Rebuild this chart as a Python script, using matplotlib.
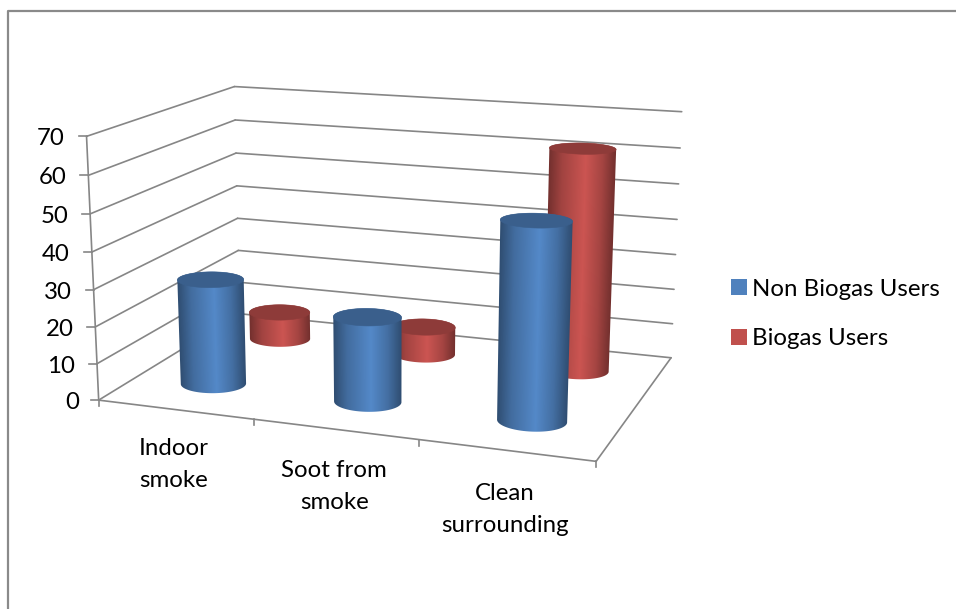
import numpy as np
import matplotlib
matplotlib.use("Agg")
import matplotlib.pyplot as plt
from matplotlib.colors import to_rgb, LinearSegmentedColormap
from matplotlib.patches import Patch, Polygon

categories = ["Indoor\nsmoke", "Soot from\nsmoke", "Clean\nsurrounding"]
series_names = ["Non Biogas Users", "Biogas Users"]
non_biogas = [29, 23, 52]
biogas = [8, 8, 62]
value_ticks = [0, 10, 20, 30, 40, 50, 60, 70]

W, H = 956, 609
GRID = "#868686"
plt.rcParams["font.family"] = ["Lato", "DejaVu Sans"]

# Camera for the 3D box: (category, depth, value) -> canvas position,
# solved from where the box corners land on the canvas.
anchors = [
    ((0, 0, 0), (99, 399.3)), ((1, 0, 0), (253, 419)), ((2, 0, 0), (419, 440)),
    ((3, 0, 0), (596.7, 461.7)), ((0, 1, 0), (240, 315)), ((3, 1, 0), (671, 356.7)),
    ((0, 0, 70), (86.7, 136.7)), ((0, 1, 70), (234.3, 85.7)), ((3, 1, 70), (681.7, 112.3)),
]
rows = []
for (a, b, c), (x, y) in anchors:
    rows.append([a, b, c, 1, 0, 0, 0, 0, -x * a, -x * b, -x * c, -x])
    rows.append([0, 0, 0, 0, a, b, c, 1, -y * a, -y * b, -y * c, -y])
rows = np.array(rows, float)
scale = np.array([1, 1, 1 / 70, 1] * 2 + [1 / 600, 1 / 600, 1 / 42000, 1 / 600])
_, _, vt = np.linalg.svd(rows * scale)
CAM = (vt[-1] * scale).reshape(3, 4)


def project(u, v, w):
    u, v, w = np.broadcast_arrays(u, v, w)
    p = CAM @ np.vstack([u.ravel(), v.ravel(), w.ravel(), np.ones(u.size)])
    return p[0] / p[2], p[1] / p[2]


def convex_hull(points):
    pts = sorted(map(tuple, points))

    def half(seq):
        out = []
        for p in seq:
            while len(out) > 1 and ((out[-1][0] - out[-2][0]) * (p[1] - out[-2][1])
                                    - (out[-1][1] - out[-2][1]) * (p[0] - out[-2][0])) <= 0:
                out.pop()
            out.append(p)
        return out[:-1]

    return np.array(half(pts) + half(pts[::-1]))


fig = plt.figure(figsize=(W / 100, H / 100), dpi=100, facecolor="white")
ax = fig.add_axes([0, 0, 1, 1])
ax.axis("off")


def line3d(a, b):
    x, y = project(*np.array([a, b], float).T)
    ax.plot(x, y, color=GRID, lw=1.2, solid_capstyle="round", zorder=1)


# Outer chart border
ax.plot([W, 8.5, 8.5], [10.5, 10.5, H], color="#8a8a8a", lw=1.6, zorder=0)

# Walls, floor and value axis
for val in value_ticks:
    line3d((0, 0, val), (0, 1, val))
    line3d((0, 1, val), (3, 1, val))
    x, y = project(0, 0, val)
    ax.plot([x[0] - 8, x[0]], [y[0], y[0]], color=GRID, lw=1.2, zorder=1)
    ax.text(x[0] - 22 + (0 if val else 2), y[0] + 2.5, str(val), ha="right", va="center",
            fontsize=17.3, color="black")
line3d((0, 0, 0), (0, 0, 70))
line3d((0, 0, 0), (3, 0, 0))
line3d((3, 0, 0), (3, 1, 0))
for i in range(4):
    x, y = project(i, 0, 0)
    ax.plot([x[0], x[0]], [y[0], y[0] + 6], color=GRID, lw=1.2, zorder=1)

# Category labels sit a little lower towards the right of the axis
for i, name in enumerate(categories):
    x, y = project(i + 0.5, 0, 0)
    ax.text(x[0] - 1, y[0] + 55 + 2 * i, name, ha="center", va="center",
            fontsize=17.3, color="black", linespacing=1.66)

RU, RV = 0.2, 0.092


def cylinder(cat, depth, value, base, z):
    mid = np.array(to_rgb(base))
    dark = mid * 0.6
    cmap = LinearSegmentedColormap.from_list(
        "shade", [(0, dark), (0.2, mid * 0.84), (0.55, np.minimum(mid * 1.06, 1)), (0.8, mid * 0.86), (1, dark)])
    t = np.linspace(0, 2 * np.pi, 181)
    cu = cat + 0.5 + RU * np.cos(t)
    cv = depth + RV * np.sin(t)
    bx, by = project(cu, cv, 0)
    tx, ty = project(cu, cv, value)
    hull = convex_hull(np.r_[np.c_[bx, by], np.c_[tx, ty]])

    # Shade across the body, following the lean of its two side edges
    x0, x1 = int(hull[:, 0].min()) - 1, int(hull[:, 0].max()) + 2
    y0, y1 = int(hull[:, 1].min()) - 1, int(hull[:, 1].max()) + 2
    gx, gy = np.meshgrid(np.arange(x0, x1) + 0.5, np.arange(y0, y1) + 0.5)
    frac = (gy - ty.mean()) / (by.mean() - ty.mean())
    left = tx.min() + (bx.min() - tx.min()) * frac
    right = tx.max() + (bx.max() - tx.max()) * frac
    body = ax.imshow(cmap(np.clip((gx - left) / (right - left), 0, 1)), extent=(x0, x1, y1, y0),
                     aspect="auto", interpolation="bilinear", zorder=z)
    outline = Polygon(hull, closed=True, fc="none", ec="none", transform=ax.transData)
    ax.add_patch(outline)
    body.set_clip_path(outline)
    ax.add_patch(Polygon(np.c_[tx, ty], closed=True, fc=mid * 0.74, ec=mid * 0.74, lw=0.4, zorder=z + 0.1))


# Back row first so the front row covers it
for i, val in enumerate(biogas):
    cylinder(i, 0.77, val, "#C0504D", 2 + i * 0.2)
for i, val in enumerate(non_biogas):
    cylinder(i, 0.26, val, "#4F81BD", 3 + i * 0.2)

ax.set_xlim(0, W)
ax.set_ylim(H, 0)

handles = [Patch(fc="#4F81BD", label=series_names[0]), Patch(fc="#C0504D", label=series_names[1])]
ax.legend(handles=handles, loc="center left", bbox_to_anchor=(731 / W, 1 - 314 / H),
          frameon=False, fontsize=17.3, handlelength=0.65, handleheight=0.65,
          handletextpad=0.24, labelspacing=1.2, borderpad=0, borderaxespad=0)

fig.savefig("out.png", dpi=100)
